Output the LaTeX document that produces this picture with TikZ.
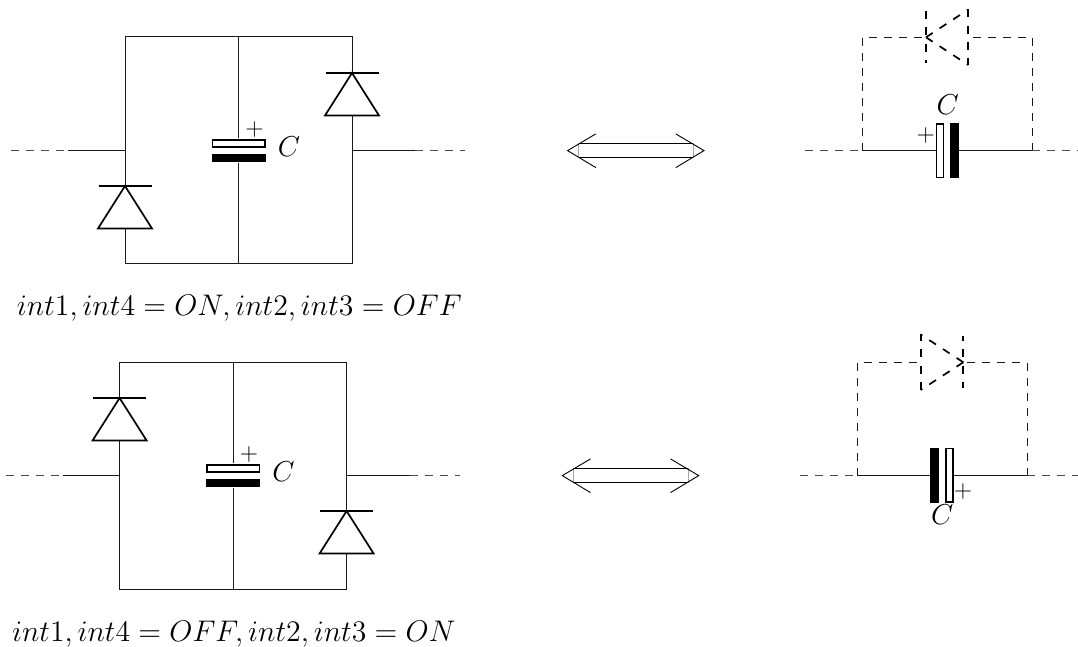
\documentclass[tikz,border=0pt]{standalone}
\usepackage{graphicx}
\tikzset{
  x=0.5pt,y=-0.5pt,
  wire/.style={line width=0.5pt,black!90},
  stub/.style={line width=0.5pt,black!70,dash pattern=on 4pt off 3.5pt},
  dwire/.style={line width=0.5pt,black!90,dash pattern=on 4pt off 3.5pt},
  dio/.style={line width=0.85pt,black,line join=miter},
  ddio/.style={line width=0.85pt,black,dash pattern=on 4pt off 4.15pt},
  plate/.style={line width=0.85pt,draw=black,fill=white},
  bplate/.style={line width=0.85pt,draw=black,fill=black},
  lbl/.style={inner sep=0pt,outer sep=0pt,font=\Large},
  plus/.style={inner sep=0pt,outer sep=0pt,font=\large},
  caption/.style={inner sep=0pt,outer sep=0pt,anchor=base west,font=\Large},
  pics/updiode/.style={code={
    \draw[dio] (-26.5,0) -- (26.5,0);
    \draw[dio] (0,0) -- (27,42.5) -- (-27,42.5) -- cycle;
  }},
  pics/dbl/.style={code={
    \coordinate (-tl) at (-68.2,0);
    \coordinate (-tr) at (68.2,0);
    \coordinate (-a) at (-57.2,-7.2);
    \coordinate (-b) at (57.2,-7.2);
    \coordinate (-c) at (57.2,7.2);
    \coordinate (-d) at (-57.2,7.2);
    \draw[line width=0.5pt] (-a) -- (-b) (-d) -- (-c);
    \draw[line width=0.2pt,black!35] (-a) -- (-d) (-b) -- (-c);
    \draw[line width=0.45pt] (-40,-16.7) -- (-tl) -- (-40,17);
    \draw[line width=0.45pt] (40,-16.7) -- (-tr) -- (40,17);
  }},
}
\begin{document}
\begin{tikzpicture}
\useasboundingbox (0,0) rectangle (1078,647);

%% top-left circuit
\begin{scope}
  \coordinate (a1) at (125,37); \coordinate (a2) at (238.5,37); \coordinate (a3) at (352,37);
  \coordinate (b1) at (125,264); \coordinate (b2) at (238.5,264); \coordinate (b3) at (352,264);
  \coordinate (lm) at (125,150.7); \coordinate (rm) at (352,150.7);
  \coordinate (ls) at (68,150.7); \coordinate (lo) at (11,150.7);
  \coordinate (rs) at (415,150.7); \coordinate (ro) at (465,150.7);
  \draw[wire] (a1) -- (a3) -- (b3) -- (b1) -- cycle (a2) -- (b2);
  \draw[wire] (ls) -- (lm) (rm) -- (rs);
  \draw[stub] (lo) -- (ls) (rs) -- (ro);
  \path[draw=white,fill=white] (99,187) rectangle (151,228);
  \path[draw=white,fill=white] (326,74) rectangle (378,115);
  \pic at (125,186) {updiode};
  \pic at (352,73) {updiode};
  \path[fill=white] (212,138) rectangle (265,163);
  \draw[plate] (212.5,140) rectangle (265,147);
  \draw[bplate] (212.5,154.5) rectangle (265,161.5);
  \node[plus] (p1) at (254.5,129.5) {$+$};
  \node[lbl] (c1) at (289,147) {$C$};
  \node[caption] (t1) at (17,315) {\scalebox{1.035}{$int1, int4 = ON, int2, int3 = OFF$}};
\end{scope}

%% bottom-left circuit
\begin{scope}[shift={(-5.4,325)}]
  \coordinate (a1b) at (125,37); \coordinate (a2b) at (238.5,37); \coordinate (a3b) at (352,37);
  \coordinate (b1b) at (125,264); \coordinate (b2b) at (238.5,264); \coordinate (b3b) at (352,264);
  \coordinate (lmb) at (125,150.7); \coordinate (rmb) at (352,150.7);
  \coordinate (lsb) at (68,150.7); \coordinate (lob) at (11,150.7);
  \coordinate (rsb) at (415,150.7); \coordinate (rob) at (465,150.7);
  \draw[wire] (a1b) -- (a3b) -- (b3b) -- (b1b) -- cycle (a2b) -- (b2b);
  \draw[wire] (lsb) -- (lmb) (rmb) -- (rsb);
  \draw[stub] (lob) -- (lsb) (rsb) -- (rob);
  \path[draw=white,fill=white] (99,74) rectangle (151,115);
  \path[draw=white,fill=white] (326,187) rectangle (378,228);
  \pic at (125,73) {updiode};
  \pic at (352,186) {updiode};
  \path[fill=white] (212,138) rectangle (265,163);
  \draw[plate] (212.5,140) rectangle (265,147);
  \draw[bplate] (212.5,154.5) rectangle (265,161.5);
  \node[plus] (p2) at (254.5,129.5) {$+$};
  \node[lbl] (c2) at (289,147) {$C$};
  \node[caption] (t2) at (17.5,316.5) {\scalebox{1.035}{$int1, int4 = OFF, int2, int3 = ON$}};
\end{scope}

%% double arrows
\pic (ar1) at (635.8,150.6) {dbl};
\pic (ar2) at (630.5,475.6) {dbl};

%% top-right circuit
\coordinate (ua) at (862,37.3); \coordinate (ub) at (1032.3,37.3);
\coordinate (uc) at (862,150.7); \coordinate (ud) at (1032.3,150.7);
\coordinate (uk) at (926,37.3); \coordinate (ue) at (968.3,37.3);
\coordinate (ul) at (805,150.7); \coordinate (ur) at (1078,150.7);
\coordinate (ubt) at (968.3,9.5); \coordinate (ubb) at (968.3,65);
\draw[dwire] (uc) -- (ua) -- (uk);
\draw[dwire] (ud) -- (ub) -- (ue);
\draw[wire] (uc) -- (ud);
\draw[stub] (ul) -- (uc) (ud) -- (ur);
\draw[ddio] (926,11) -- (926,63);
\draw[ddio] (ubt) -- (ubb);
\draw[ddio] (uk) -- (ubt);
\draw[ddio] (uk) -- (ubb);
\path[fill=white] (936,123) rectangle (959,178);
\draw[plate] (936.5,124) rectangle (943.5,177.5);
\draw[bplate] (951,124) rectangle (958.3,177.5);
\node[plus] (p3) at (925.7,136) {$+$};
\node[lbl] (c3) at (947.7,104.7) {$C$};

%% bottom-right circuit
\coordinate (va) at (857,362.3); \coordinate (vb) at (1027,362.3);
\coordinate (vc) at (857,475.7); \coordinate (vd) at (1027,475.7);
\coordinate (vk) at (963.3,362.3); \coordinate (ve) at (920.7,362.3);
\coordinate (vl) at (800,475.7); \coordinate (vr) at (1078,475.7);
\coordinate (vbt) at (920.7,334.5); \coordinate (vbb) at (920.7,390);
\draw[dwire] (vc) -- (va) -- (ve);
\draw[dwire] (vd) -- (vb) -- (vk);
\draw[wire] (vc) -- (vd);
\draw[stub] (vl) -- (vc) (vd) -- (vr);
\draw[ddio] (vbb) -- (vbt);
\draw[ddio,dash phase=1.5pt] (963.3,336) -- (963.3,388);
\draw[ddio] (vk) -- (vbt);
\draw[ddio] (vk) -- (vbb);
\path[fill=white] (930,447) rectangle (954,503);
\draw[bplate] (931,448.5) rectangle (938.3,502.3);
\draw[plate] (946,448.5) rectangle (953,502.3);
\node[plus] (p4) at (963,491.7) {$+$};
\node[lbl] (c4) at (942.3,515) {$C$};
\end{tikzpicture}
\end{document}
